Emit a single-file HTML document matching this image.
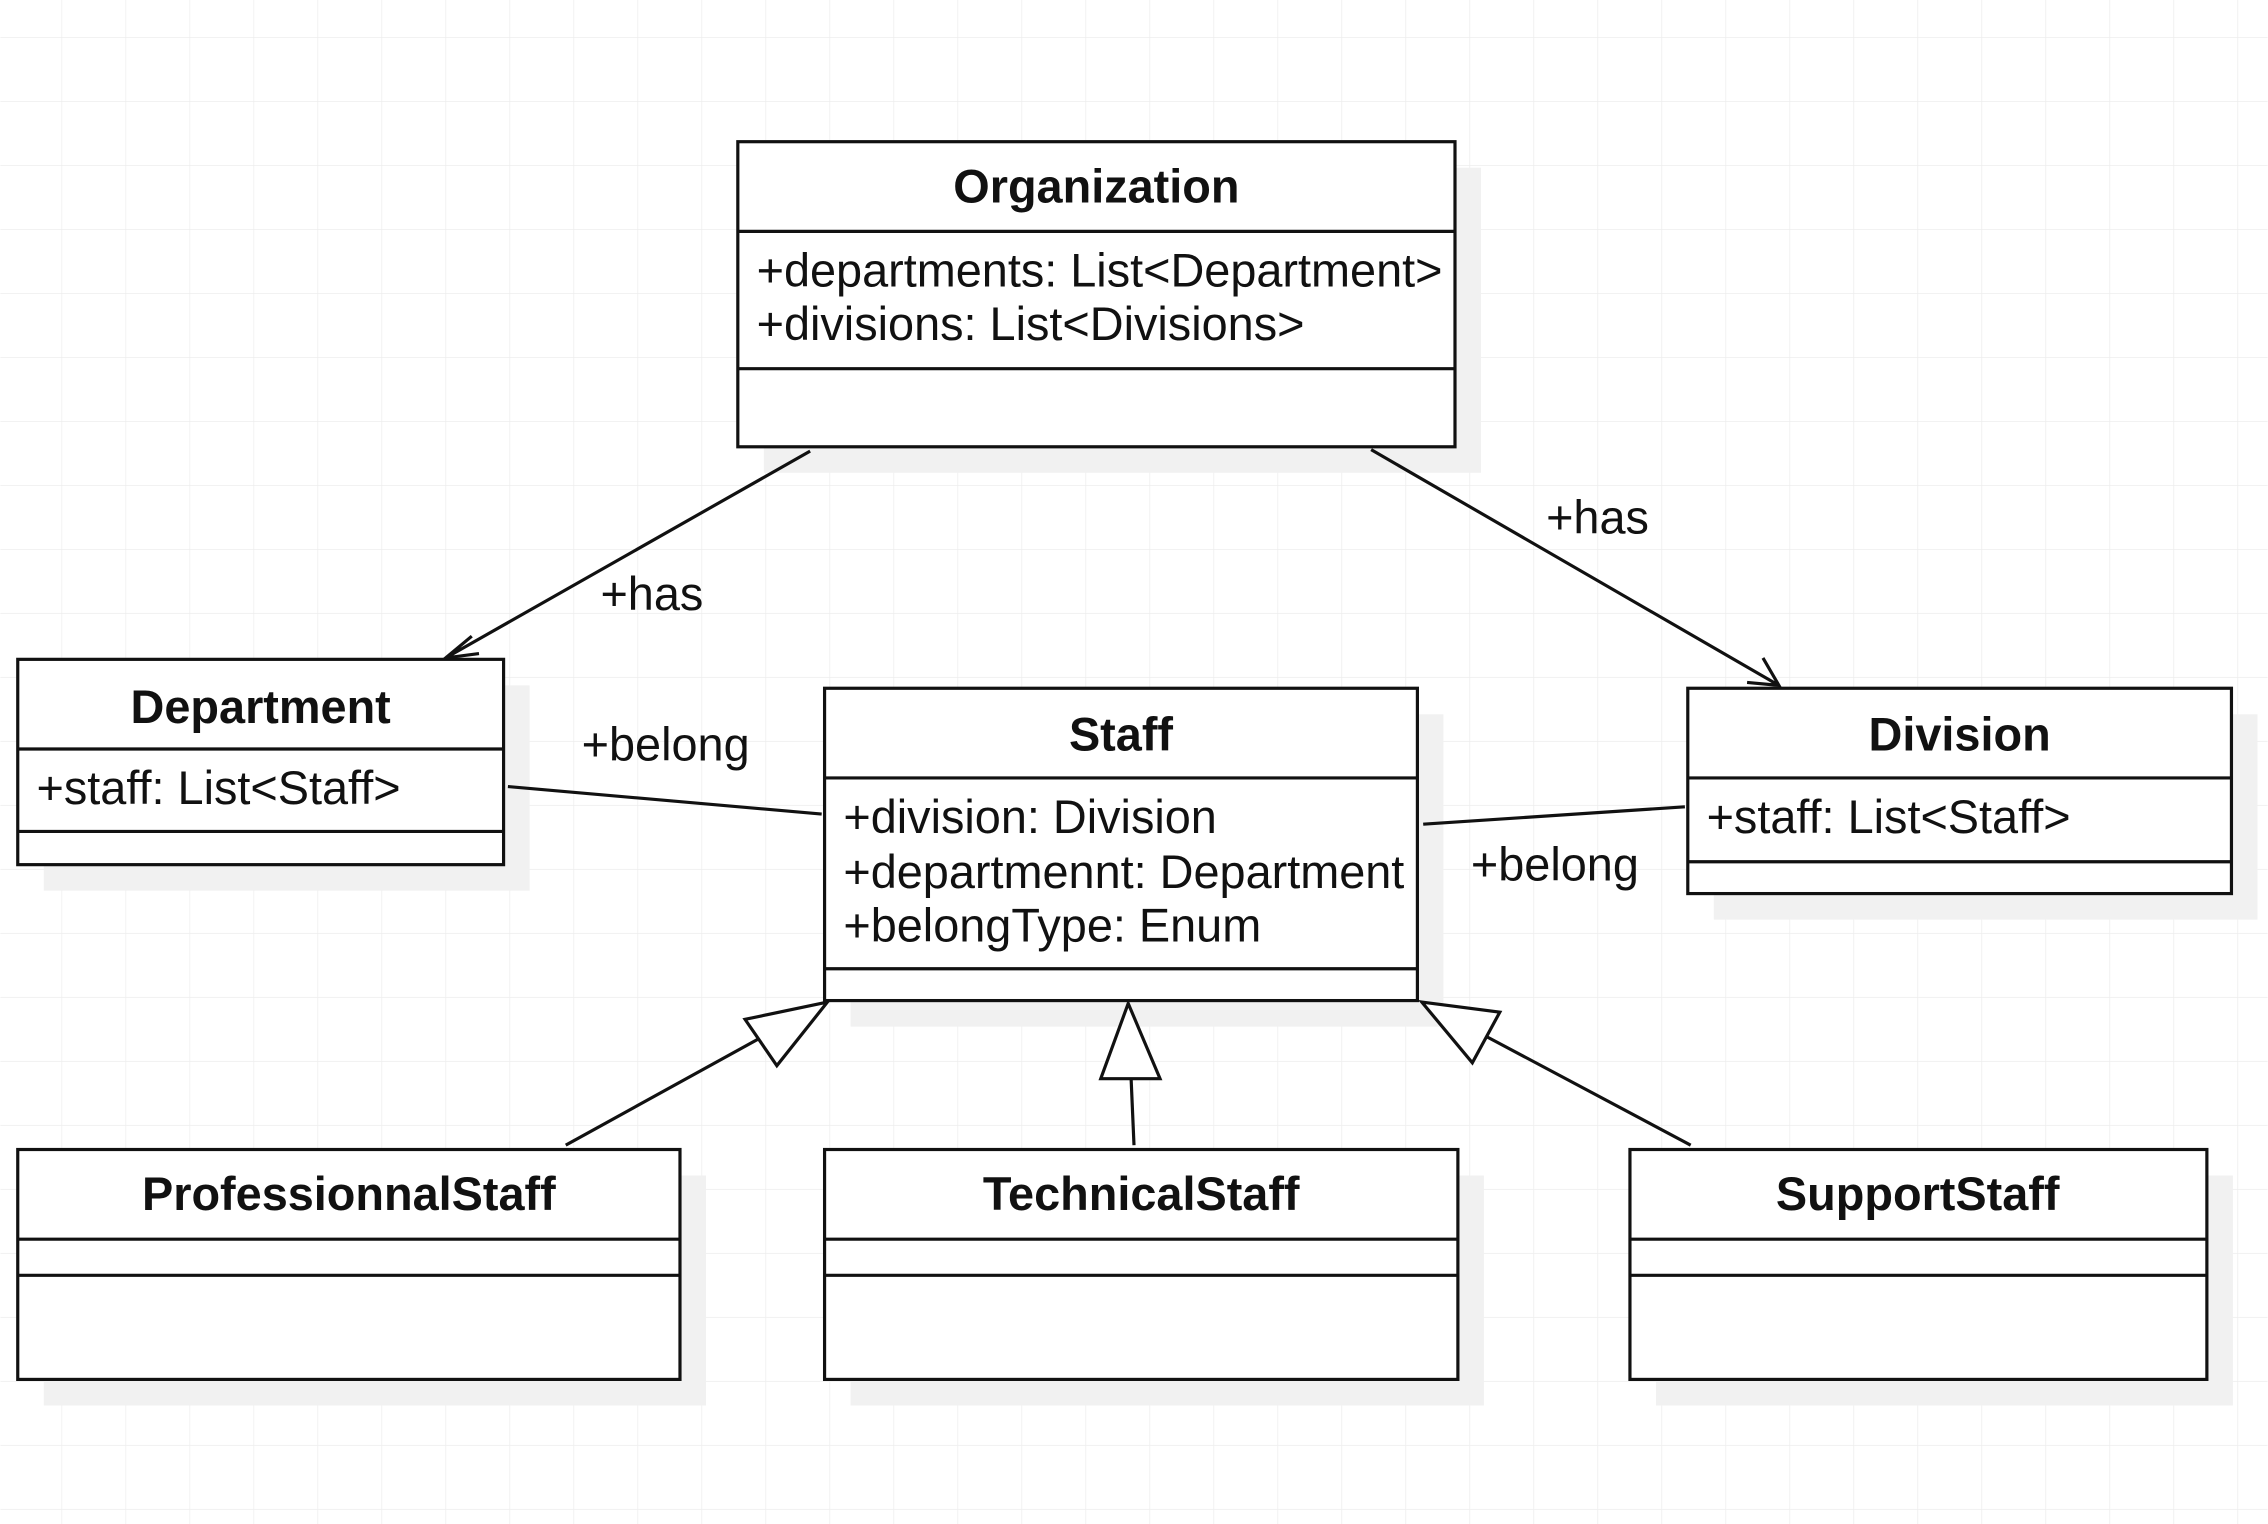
<!DOCTYPE html>
<html><head><meta charset="utf-8"><style>html,body{margin:0;padding:0;background:#fff}svg{display:block}</style></head>
<body>
<svg width="2268" height="1524" viewBox="0 0 1568 1054" xmlns="http://www.w3.org/2000/svg">
<defs>
<pattern id="g" x="42.2" y="25.6" width="44.26" height="44.26" patternUnits="userSpaceOnUse">
<path d="M0 0H44.26M0 0V44.26" stroke="#ededed" stroke-width="1" fill="none"/>
</pattern>
</defs>
<rect width="1568" height="1054" fill="#fff"/>
<rect width="1568" height="1054" fill="url(#g)"/>
<g fill="#f1f1f1">
<rect x="528" y="116" width="496" height="211"/>
<rect x="30" y="474" width="336" height="142"/>
<rect x="588" y="494" width="410" height="216"/>
<rect x="1185" y="494" width="376" height="142"/>
<rect x="30" y="813" width="458" height="159"/>
<rect x="588" y="813" width="438" height="159"/>
<rect x="1145" y="813" width="399" height="159"/>
</g>
<g fill="#fff" stroke="#111" stroke-width="2.2">
<rect x="510" y="98" width="496" height="211"/>
<rect x="12" y="456" width="336" height="142"/>
<rect x="570" y="476" width="410" height="216"/>
<rect x="1167" y="476" width="376" height="142"/>
<rect x="12" y="795" width="458" height="159"/>
<rect x="570" y="795" width="438" height="159"/>
<rect x="1127" y="795" width="399" height="159"/>
</g>
<g stroke="#111" stroke-width="2.2" fill="none">
<path d="M510 160H1006M510 255H1006"/>
<path d="M12 518H348M12 575H348"/>
<path d="M570 538H980M570 670H980"/>
<path d="M1167 538H1543M1167 596H1543"/>
<path d="M12 857H470M12 882H470"/>
<path d="M570 857H1008M570 882H1008"/>
<path d="M1127 857H1526M1127 882H1526"/>
<path d="M560 312L308 455M326 440L308 455L331 452"/>
<path d="M948 311L1230 474M1208 472L1230 474L1219 455"/>
<path d="M351 544L568 563"/>
<path d="M984 570L1165 558"/>
<path d="M391 792L527 717"/>
<path d="M784 792L782 746"/>
<path d="M1169 792L1028 717"/>
</g>
<g fill="#fff" stroke="#111" stroke-width="2.2">
<polygon points="572,693 515,705 537,737"/>
<polygon points="780,694 761,746 802,746"/>
<polygon points="983,693 1037,700 1018,735"/>
</g>
<g font-family="Liberation Sans, Arial, sans-serif" font-size="32.4" fill="#111">
<g font-weight="bold" text-anchor="middle">
<text x="758" y="140">Organization</text>
<text x="180" y="500">Department</text>
<text x="775" y="519">Staff</text>
<text x="1355" y="519">Division</text>
<text x="241" y="837">ProfessionnalStaff</text>
<text x="789" y="837">TechnicalStaff</text>
<text x="1326" y="837">SupportStaff</text>
</g>
<text x="523" y="198">+departments: List&lt;Department&gt;</text>
<text x="523" y="235">+divisions: List&lt;Divisions&gt;</text>
<text x="25" y="556">+staff: List&lt;Staff&gt;</text>
<text x="583" y="576">+division: Division</text>
<text x="583" y="614">+departmennt: Department</text>
<text x="583" y="651">+belongType: Enum</text>
<text x="1180" y="576">+staff: List&lt;Staff&gt;</text>
<text x="415" y="422">+has</text>
<text x="1069" y="369">+has</text>
<text x="402" y="526">+belong</text>
<text x="1017" y="609">+belong</text>
</g>
</svg>
</body></html>
